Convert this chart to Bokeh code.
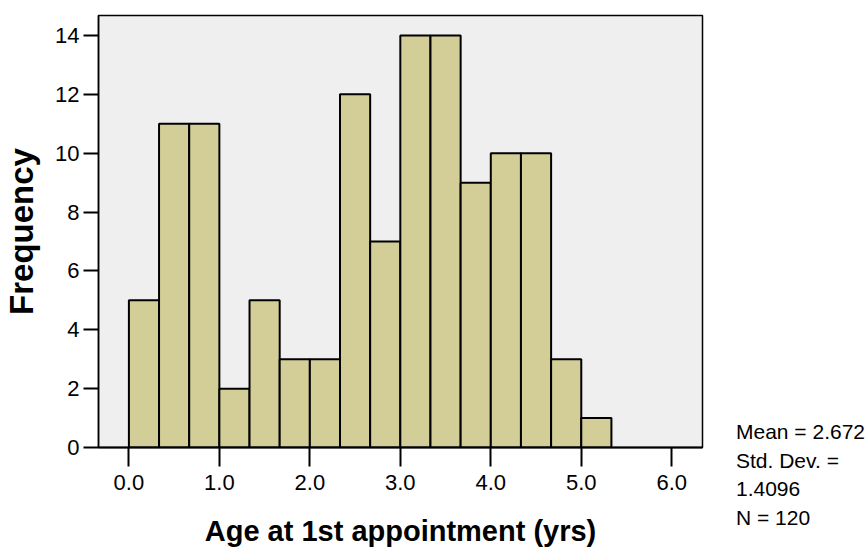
from bokeh.plotting import figure
from bokeh.models import Range1d, FixedTicker, ColumnDataSource, Div
from bokeh.layouts import row
from bokeh.embed import file_html
from bokeh.resources import INLINE

# ---- data ----
bin_left = [0.0, 0.3333, 0.6667, 1.0, 1.3333, 1.6667, 2.0, 2.3333,
            2.6667, 3.0, 3.3333, 3.6667, 4.0, 4.3333, 4.6667, 5.0]
bin_right = [0.3333, 0.6667, 1.0, 1.3333, 1.6667, 2.0, 2.3333, 2.6667,
             3.0, 3.3333, 3.6667, 4.0, 4.3333, 4.6667, 5.0, 5.3333]
frequency = [5, 11, 11, 2, 5, 3, 3, 12, 7, 14, 14, 9, 10, 10, 3, 1]
x_ticks = [0, 1, 2, 3, 4, 5, 6]
x_tick_labels = ["0.0", "1.0", "2.0", "3.0", "4.0", "5.0", "6.0"]
y_ticks = [0, 2, 4, 6, 8, 10, 12, 14]
stats_lines = ["Mean = 2.672", "Std. Dev. =", "1.4096", "N = 120"]

FONT = "Liberation Sans"
MAIN_W = 720

p = figure(width=MAIN_W, height=554, output_backend="svg", toolbar_location=None,
           x_range=Range1d(-0.336, 6.34), y_range=Range1d(0, 14.68),
           min_border_left=98, min_border_right=MAIN_W - 702, min_border_top=15,
           min_border_bottom=107)

p.border_fill_color = "white"
p.background_fill_color = "#efefef"
p.outline_line_color = "black"
p.outline_line_width = 1.5
p.grid.visible = False

src = ColumnDataSource(dict(left=bin_left, right=bin_right, top=frequency,
                            bottom=[0] * len(frequency)))
p.quad(left="left", right="right", top="top", bottom="bottom", source=src,
       fill_color="#d3ce97", line_color="black", line_width=2)

# x axis
xa = p.xaxis[0]
xa.ticker = FixedTicker(ticks=x_ticks)
xa.major_label_overrides = {t: l for t, l in zip(x_ticks, x_tick_labels)}
xa.minor_tick_line_color = None
xa.major_tick_out = 19
xa.major_tick_in = 0
xa.major_tick_line_width = 2
xa.major_tick_line_color = "black"
xa.axis_line_color = "black"
xa.axis_line_width = 2
xa.major_label_standoff = 8
xa.major_label_text_font = FONT
xa.major_label_text_font_size = "22px"
xa.major_label_text_color = "black"
xa.axis_label = "Age at 1st appointment (yrs)"
xa.axis_label_text_font = FONT
xa.axis_label_text_font_style = "bold"
xa.axis_label_text_font_size = "29px"
xa.axis_label_text_color = "black"
xa.axis_label_standoff = 22

# y axis
ya = p.yaxis[0]
ya.ticker = FixedTicker(ticks=y_ticks)
ya.minor_tick_line_color = None
ya.major_tick_out = 15
ya.major_tick_in = 0
ya.major_tick_line_width = 2
ya.major_tick_line_color = "black"
ya.axis_line_color = "black"
ya.axis_line_width = 1.5
ya.major_label_standoff = 4
ya.major_label_text_font = FONT
ya.major_label_text_font_size = "22px"
ya.major_label_text_color = "black"
ya.axis_label = "Frequency"
ya.axis_label_text_font = FONT
ya.axis_label_text_font_style = "bold"
ya.axis_label_text_font_size = "33px"
ya.axis_label_text_color = "black"
ya.axis_label_standoff = 12

# statistics text to the right of the chart
stats_html = (
    "<div style=\"margin:0; padding:0; padding-top:418px; padding-left:16px; "
    "font-family:'Liberation Sans', Arial, sans-serif; font-size:21px; "
    "line-height:28.5px; color:black; white-space:nowrap;\">"
    + "<br>".join(stats_lines) + "</div>"
)
stats = Div(text=stats_html, width=867 - MAIN_W, height=554,
            styles={"margin": "0", "padding": "0"})

layout = row(p, stats, spacing=0)
open("out.html", "w").write(file_html(layout, INLINE))
